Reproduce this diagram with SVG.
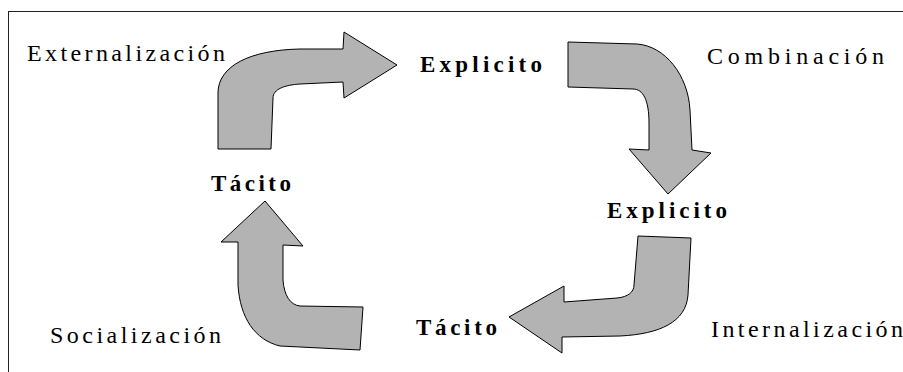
<svg xmlns="http://www.w3.org/2000/svg" width="903" height="372" viewBox="0 0 903 372">
<style>
.arrow{fill:#b3b3b3;stroke:#000;stroke-width:1;stroke-linejoin:miter}
.lbl{font-family:"Liberation Serif","Times New Roman",serif;font-size:24px;fill:#000}
.node{font-family:"Liberation Serif","Times New Roman",serif;font-size:23px;font-weight:bold;fill:#000}
</style>
<rect x="0" y="0" width="903" height="372" fill="#fff"/>
<rect x="8.5" y="11.5" width="1000" height="1000" fill="none" stroke="#222" stroke-width="1"/>
<g id="connectors">
<path id="arrow-externalizacion" class="arrow" d="M218,149 L218,93 C218,66 250,50 300,49 L343,49 L344,32 L397,65 L344,98 L343,82 L300,84 C285,85 273,89 273,98 L271,149 Z"/>
<path id="arrow-combinacion" class="arrow" d="M568,42 L637,44 C665,46 688,75 690,110 L692,150 L711,153 L668,194 L629,149 L649,150 L649,123 C649,100 643,89 633,89 L568,87 Z"/>
<path id="arrow-internalizacion" class="arrow" d="M638,236 L691,238 L688,295 C686,322 660,334 620,336 L562,337 L562,353 L509,317 L564,286 L564,302 L617,298 C628,297 634,292 634,285 L638,236 Z"/>
<path id="arrow-socializacion" class="arrow" d="M265,201 L303,246 L283,245 L283,280 C284,295 290,305 300,306 L363,307 L360,350 L280,346 C255,340 240,318 238,285 L238,242 L221,242 Z"/>
</g>
<g id="label-externalizacion"><text class="lbl" x="27" y="61" textLength="198" lengthAdjust="spacing">Externalización</text></g>
<g id="node-explicito-1"><text class="node" x="420" y="72" textLength="122" lengthAdjust="spacing">Explicito</text></g>
<g id="label-combinacion"><text class="lbl" x="707" y="64" textLength="177" lengthAdjust="spacing">Combinación</text></g>
<g id="node-tacito-1"><text class="node" x="211" y="191" textLength="80" lengthAdjust="spacing">Tácito</text></g>
<g id="node-explicito-2"><text class="node" x="607" y="218" textLength="120" lengthAdjust="spacing">Explicito</text></g>
<g id="label-socializacion"><text class="lbl" x="50" y="343" textLength="171" lengthAdjust="spacing">Socialización</text></g>
<g id="node-tacito-2"><text class="node" x="416" y="335" textLength="81" lengthAdjust="spacing">Tácito</text></g>
<g id="label-internalizacion"><text class="lbl" x="711" y="337" textLength="192" lengthAdjust="spacing">Internalización</text></g>
</svg>
